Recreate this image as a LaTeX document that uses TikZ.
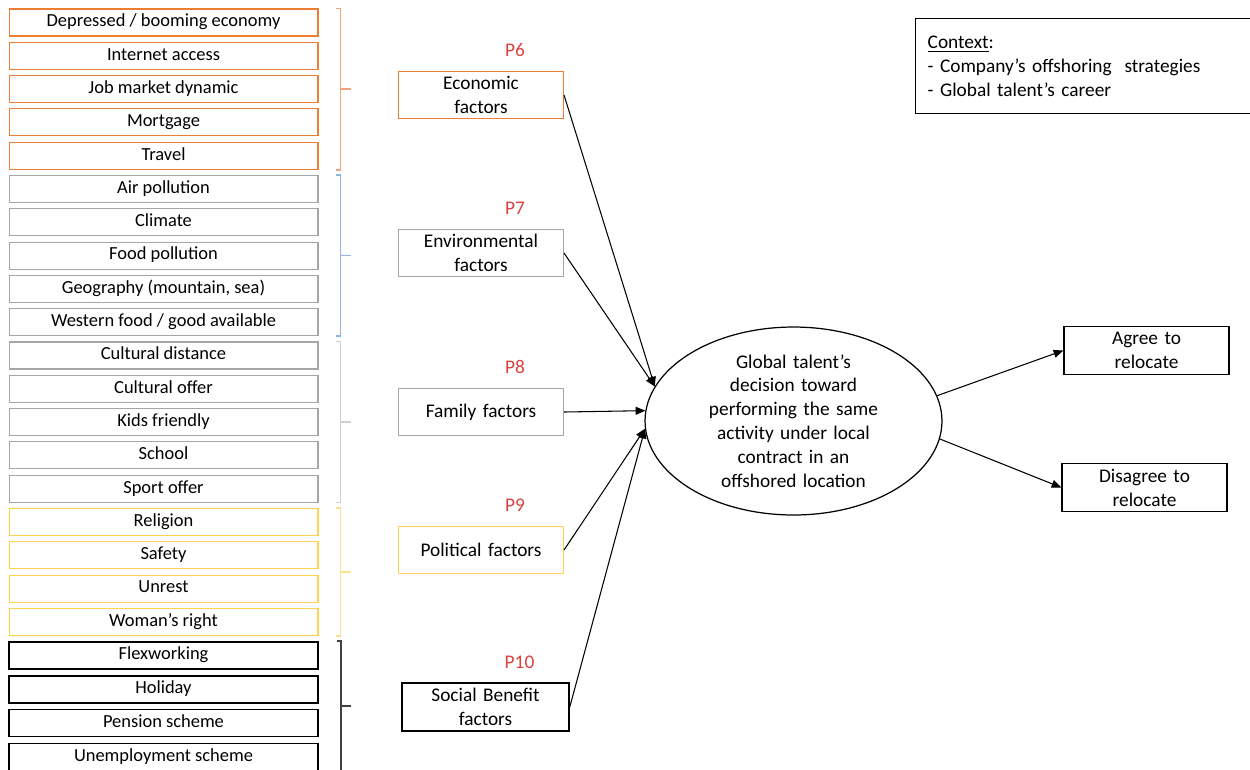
\documentclass[tikz,border=0pt]{standalone}
\usepackage{fontspec}
\setmainfont{Carlito}
\usepackage{tikz}
\usetikzlibrary{shapes.geometric, arrows.meta, positioning, calc}
\definecolor{econorange}{HTML}{ED7D31}
\definecolor{econbrace}{HTML}{EDA47A}
\definecolor{envgray}{HTML}{A6A6A6}
\definecolor{envbrace}{HTML}{8FB4DE}
\definecolor{fambrace}{HTML}{D0D0D0}
\definecolor{polyellow}{HTML}{FFD34D}
\definecolor{polbrace}{HTML}{FFE08A}
\definecolor{socbrace}{HTML}{404040}
\definecolor{plabelred}{HTML}{D9423E}
\newcommand\listfont{\fontsize{10.5}{12.6}\selectfont}
\newcommand\boxfont{\fontsize{11}{13.6}\selectfont}

\begin{document}
\begin{tikzpicture}[
    x=0.02cm, y=-0.02cm,
    node distance = 0.105cm,
    item/.style = {rectangle, draw, line width=0.6pt, minimum width=6.18cm,
                   minimum height=0.54cm, inner sep=0pt, text height=7.4pt, text depth=2.4pt,
                   font=\listfont},
    econitem/.style = {item, draw=econorange},
    envitem/.style  = {item, draw=envgray},
    politem/.style  = {item, draw=polyellow},
    socitem/.style  = {item, draw=black, line width=0.9pt},
    factor/.style = {rectangle, draw, line width=0.6pt, text width=3.1cm, align=center,
                     minimum width=3.3cm, minimum height=0.95cm, inner sep=0pt, font=\boxfont},
    plabel/.style = {text=plabelred, font=\boxfont, inner sep=0pt},
    decision/.style = {ellipse, draw, line width=0.7pt, text width=4cm, align=center,
                       minimum width=5.94cm, minimum height=3.76cm,
                       inner xsep=0pt, inner ysep=-3pt, font=\boxfont},
    bracket/.style = {line width=0.9pt},
    arrow/.style = {-{Triangle[length=5.5pt,width=4.5pt]}, line width=0.6pt}
  ]
  \clip (0,0) rectangle (1250,769);

  % left column of items
  \node[econitem] (f1) at (163.5,22.5) {Depressed / booming economy};
  \node[econitem, below=of f1]  (f2)  {Internet access};
  \node[econitem, below=of f2]  (f3)  {Job market dynamic};
  \node[econitem, below=of f3]  (f4)  {Mortgage};
  \node[econitem, below=of f4]  (f5)  {Travel};
  \node[envitem, below=of f5]   (f6)  {Air pollution};
  \node[envitem, below=of f6]   (f7)  {Climate};
  \node[envitem, below=of f7]   (f8)  {Food pollution};
  \node[envitem, below=of f8]   (f9)  {Geography (mountain, sea)};
  \node[envitem, below=of f9]   (f10) {Western food / good available};
  \node[envitem, below=of f10]  (f11) {Cultural distance};
  \node[envitem, below=of f11]  (f12) {Cultural offer};
  \node[envitem, below=of f12]  (f13) {Kids friendly};
  \node[envitem, below=of f13]  (f14) {School};
  \node[envitem, below=of f14]  (f15) {Sport offer};
  \node[politem, below=of f15]  (f16) {Religion};
  \node[politem, below=of f16]  (f17) {Safety};
  \node[politem, below=of f17]  (f18) {Unrest};
  \node[politem, below=of f18]  (f19) {Woman’s right};
  \node[socitem, below=of f19]  (f20) {Flexworking};
  \node[socitem, below=of f20]  (f21) {Holiday};
  \node[socitem, below=of f21]  (f22) {Pension scheme};
  \node[socitem, below=of f22]  (f23) {Unemployment scheme};

  % brackets
  \draw[bracket, draw=econbrace] ([xshift=0.36cm]f1.north east) -- ++(4,0) |- ([xshift=0.36cm]f5.south east);
  \draw[bracket, draw=econbrace] ($(f1.north east)!0.5!(f5.south east)$) ++(22,0) -- ++(10,0);
  \draw[bracket, draw=envbrace] ([xshift=0.36cm]f6.north east) -- ++(4,0) |- ([xshift=0.36cm]f10.south east);
  \draw[bracket, draw=envbrace] ($(f6.north east)!0.5!(f10.south east)$) ++(22,0) -- ++(10,0);
  \draw[bracket, draw=fambrace] ([xshift=0.36cm]f11.north east) -- ++(4,0) |- ([xshift=0.36cm]f15.south east);
  \draw[bracket, draw=fambrace] ($(f11.north east)!0.5!(f15.south east)$) ++(22,0) -- ++(10,0);
  \draw[bracket, draw=polbrace] ([xshift=0.36cm]f16.north east) -- ++(4,0) |- ([xshift=0.36cm]f19.south east);
  \draw[bracket, draw=polbrace] ($(f16.north east)!0.5!(f19.south east)$) ++(22,0) -- ++(10,0);
  \draw[bracket, draw=socbrace] ([xshift=0.36cm]f20.north east) -- ++(4,0) |- ([xshift=0.36cm]f23.south east);
  \draw[bracket, draw=socbrace] ($(f20.north east)!0.5!(f23.south east)$) ++(22,0) -- ++(10,0);

  % factor boxes
  \node[factor, draw=econorange] (econ)      at (481,95)    {Economic\\factors};
  \node[factor, draw=envgray]    (env)       at (481,253)   {Environmental\\factors};
  \node[factor, draw=envgray]    (family)    at (481,412)   {Family factors};
  \node[factor, draw=polyellow]  (political) at (481,550)   {Political factors};
  \node[factor, draw=black, line width=0.9pt, minimum width=3.34cm] (social) at (485.5,707) {Social Benefit\\factors};

  \node[plabel, above=0.27cm of econ, xshift=0.68cm]      (p6)  {P6};
  \node[plabel, above=0.27cm of env, xshift=0.68cm]       (p7)  {P7};
  \node[plabel, above=0.27cm of family, xshift=0.68cm]    (p8)  {P8};
  \node[plabel, above=0.27cm of political, xshift=0.68cm] (p9)  {P9};
  \node[plabel, above=0.27cm of social, xshift=0.68cm]    (p10) {P10};

  \node[decision] (decision) at (793.5,421) {Global talent’s\\decision toward\\performing the same\\activity under local\\contract in an\\offshored location};

  \node[factor, draw=black, line width=0.8pt] (agree)    at (1146.5,350.5) {Agree to\\relocate};
  \node[factor, draw=black, line width=0.8pt] (disagree) at (1144.5,487.5) {Disagree to\\relocate};

  \node[draw, line width=0.8pt, anchor=north west, minimum width=6.8cm, minimum height=1.9cm,
        text width=6.32cm, align=left, inner xsep=0.24cm, inner ysep=2pt, font=\boxfont]
        (context) at (915,18) {\underline{Context}:\\- Company’s offshoring~ strategies\\- Global talent’s career};

  \draw[arrow] (econ.east)      -- (decision.166);
  \draw[arrow] (env.east)       -- (decision.166);
  \draw[arrow] (family.east)    -- (decision.176);
  \draw[arrow] (political.east) -- (decision.183);
  \draw[arrow] (social.east)    -- (decision.183);
  \draw[arrow] (decision.10)    -- (agree.west);
  \draw[arrow] (decision.353)   -- (disagree.west);
\end{tikzpicture}
\end{document}
